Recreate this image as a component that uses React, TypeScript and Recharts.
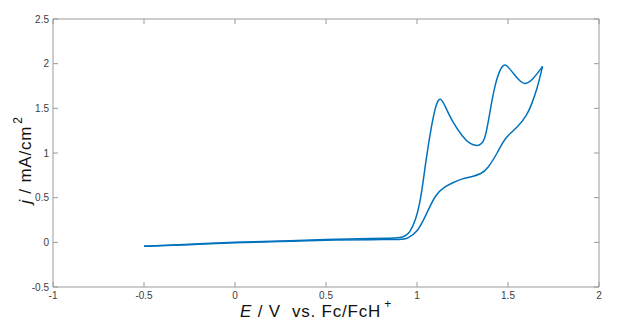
import { LineChart, Line, XAxis, YAxis } from 'recharts';

// forward (anodic) sweep, -0.5 V -> 1.69 V
const forwardE = [-0.5, -0.25, 0, 0.25, 0.5, 0.75, 0.85, 0.92, 0.96, 0.99, 1.02, 1.05, 1.08, 1.105, 1.13, 1.16, 1.2, 1.25, 1.29, 1.33, 1.37, 1.4, 1.43, 1.46, 1.49, 1.53, 1.57, 1.6, 1.64, 1.69];
const forwardJ = [-0.045, -0.022, 0.0, 0.015, 0.032, 0.042, 0.046, 0.06, 0.12, 0.25, 0.5, 0.92, 1.3, 1.53, 1.6, 1.5, 1.34, 1.19, 1.11, 1.085, 1.16, 1.45, 1.76, 1.94, 1.98, 1.89, 1.8, 1.78, 1.84, 1.97];

// reverse sweep, 1.69 V -> -0.5 V
const reverseE = [1.69, 1.66, 1.63, 1.6, 1.55, 1.49, 1.44, 1.39, 1.35, 1.3, 1.25, 1.2, 1.15, 1.1, 1.05, 1.0, 0.95, 0.9, 0.75, 0.5, 0.25, 0, -0.25, -0.5];
const reverseJ = [1.97, 1.73, 1.55, 1.42, 1.29, 1.17, 1.0, 0.84, 0.77, 0.735, 0.71, 0.67, 0.615, 0.51, 0.31, 0.13, 0.05, 0.032, 0.03, 0.024, 0.01, -0.006, -0.026, -0.045];

const xTicks = [-1, -0.5, 0, 0.5, 1, 1.5, 2];
const yTicks = [-0.5, 0, 0.5, 1, 1.5, 2, 2.5];

const forward = forwardE.map((E, i) => ({ E, j: forwardJ[i] }));
const reverse = reverseE.map((E, i) => ({ E, j: reverseJ[i] }));

const font = 'Arial, "Liberation Sans", sans-serif';
const axisColor = '#9a9a9a';
const tickStyle = { fontSize: 10, fill: '#3c3c3c', fontFamily: font };

const XLabel = () => (
  <text x={232} y={309} textAnchor="start" fontSize={17} letterSpacing={0.8} fontFamily={font} fill="#111">
    <tspan fontStyle="italic">E</tspan>
    <tspan>{' / V\u00a0\u00a0vs. Fc/FcH'}</tspan>
    <tspan fontSize={12} dx={3} dy={-9}>+</tspan>
  </text>
);

const YLabel = (props: any) => {
  const vb = props.viewBox;
  const cy = vb.y + vb.height / 2 + 7;
  const bx = 23;
  return (
    <text x={bx} y={cy} transform={`rotate(-90, ${bx}, ${cy})`} textAnchor="middle" fontSize={17} letterSpacing={0.8} fontFamily={font} fill="#111">
      <tspan fontStyle="italic">j</tspan>
      <tspan> / mA/cm</tspan>
      <tspan fontSize={12} dx={2} dy={-9}>2</tspan>
    </text>
  );
};

export default function App() {
  return (
    <LineChart width={610} height={316} margin={{ top: 10, right: 18, bottom: 0, left: 5 }}>
      <XAxis
        dataKey="E"
        type="number"
        domain={[-1, 2]}
        ticks={xTicks}
        allowDataOverflow
        stroke={axisColor}
        tickSize={-5}
        tickMargin={10}
        tick={tickStyle}
        height={37}
        label={{ content: <XLabel /> }}
      />
      <XAxis
        xAxisId="top"
        orientation="top"
        dataKey="E"
        type="number"
        domain={[-1, 2]}
        ticks={xTicks}
        allowDataOverflow
        stroke={axisColor}
        tickSize={-5}
        tickFormatter={() => ''}
        height={1}
      />
      <YAxis
        type="number"
        domain={[-0.5, 2.5]}
        ticks={yTicks}
        allowDataOverflow
        stroke={axisColor}
        tickSize={-5}
        tickMargin={9}
        tick={tickStyle}
        width={40}
        label={{ content: <YLabel /> }}
      />
      <YAxis
        yAxisId="right"
        orientation="right"
        type="number"
        domain={[-0.5, 2.5]}
        ticks={yTicks}
        allowDataOverflow
        stroke={axisColor}
        tickSize={-5}
        tickFormatter={() => ''}
        width={1}
      />
      <Line data={forward} dataKey="j" type="natural" stroke="#0072BD" strokeWidth={1.5} dot={false} isAnimationActive={false} />
      <Line data={reverse} dataKey="j" type="natural" stroke="#0072BD" strokeWidth={1.5} dot={false} isAnimationActive={false} />
    </LineChart>
  );
}
